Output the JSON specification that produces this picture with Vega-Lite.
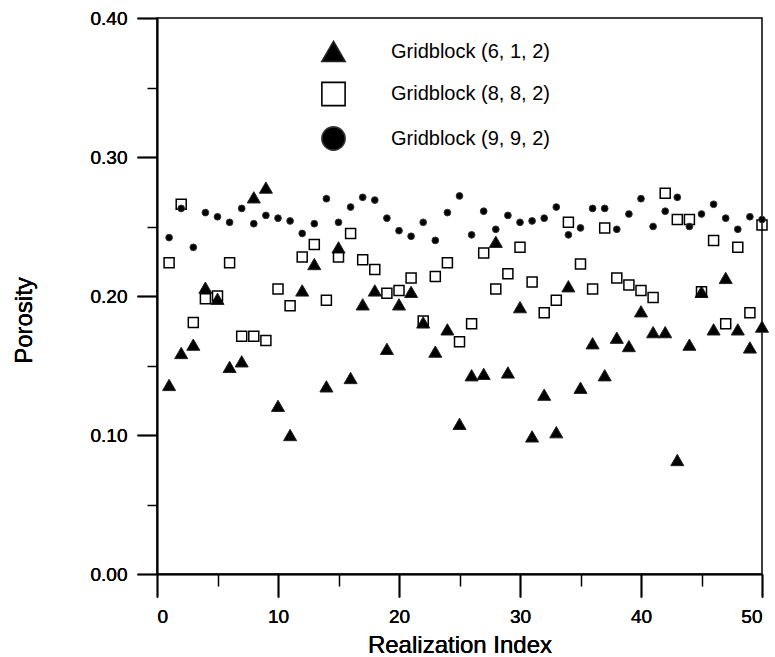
{
  "$schema": "https://vega.github.io/schema/vega-lite/v6.json",
  "width": 605,
  "height": 556,
  "autosize": {"type": "none"},
  "padding": {"left": 157, "top": 18, "right": 13, "bottom": 83},
  "background": "white",
  "config": {
    "view": {"stroke": "black", "strokeWidth": 1.5},
    "font": "Liberation Sans",
    "axis": {"grid": false, "domainColor": "black", "domainWidth": 1.5, "tickColor": "black", "tickWidth": 1.5, "labelColor": "black", "titleColor": "black", "labelFont": "Liberation Sans", "titleFont": "Liberation Sans", "titleFontWeight": "normal"},
    "legend": {"orient": "none", "legendX": 164, "legendY": 21, "title": null, "symbolSize": 540, "symbolStrokeWidth": 1.6, "labelFontSize": 20, "labelFont": "Liberation Sans", "labelColor": "black", "labelOffset": 45, "labelLimit": 400, "rowPadding": 13.5, "padding": 0}
  },
  "datasets": {
    "pts": [
      {"i":1,"s":"Gridblock (6, 1, 2)","v":0.136},{"i":2,"s":"Gridblock (6, 1, 2)","v":0.159},{"i":3,"s":"Gridblock (6, 1, 2)","v":0.165},{"i":4,"s":"Gridblock (6, 1, 2)","v":0.206},{"i":5,"s":"Gridblock (6, 1, 2)","v":0.198},
      {"i":6,"s":"Gridblock (6, 1, 2)","v":0.149},{"i":7,"s":"Gridblock (6, 1, 2)","v":0.153},{"i":8,"s":"Gridblock (6, 1, 2)","v":0.271},{"i":9,"s":"Gridblock (6, 1, 2)","v":0.278},{"i":10,"s":"Gridblock (6, 1, 2)","v":0.121},
      {"i":11,"s":"Gridblock (6, 1, 2)","v":0.100},{"i":12,"s":"Gridblock (6, 1, 2)","v":0.204},{"i":13,"s":"Gridblock (6, 1, 2)","v":0.223},{"i":14,"s":"Gridblock (6, 1, 2)","v":0.135},{"i":15,"s":"Gridblock (6, 1, 2)","v":0.235},
      {"i":16,"s":"Gridblock (6, 1, 2)","v":0.141},{"i":17,"s":"Gridblock (6, 1, 2)","v":0.194},{"i":18,"s":"Gridblock (6, 1, 2)","v":0.204},{"i":19,"s":"Gridblock (6, 1, 2)","v":0.162},{"i":20,"s":"Gridblock (6, 1, 2)","v":0.194},
      {"i":21,"s":"Gridblock (6, 1, 2)","v":0.203},{"i":22,"s":"Gridblock (6, 1, 2)","v":0.181},{"i":23,"s":"Gridblock (6, 1, 2)","v":0.160},{"i":24,"s":"Gridblock (6, 1, 2)","v":0.176},{"i":25,"s":"Gridblock (6, 1, 2)","v":0.108},
      {"i":26,"s":"Gridblock (6, 1, 2)","v":0.143},{"i":27,"s":"Gridblock (6, 1, 2)","v":0.144},{"i":28,"s":"Gridblock (6, 1, 2)","v":0.239},{"i":29,"s":"Gridblock (6, 1, 2)","v":0.145},{"i":30,"s":"Gridblock (6, 1, 2)","v":0.192},
      {"i":31,"s":"Gridblock (6, 1, 2)","v":0.099},{"i":32,"s":"Gridblock (6, 1, 2)","v":0.129},{"i":33,"s":"Gridblock (6, 1, 2)","v":0.102},{"i":34,"s":"Gridblock (6, 1, 2)","v":0.207},{"i":35,"s":"Gridblock (6, 1, 2)","v":0.134},
      {"i":36,"s":"Gridblock (6, 1, 2)","v":0.166},{"i":37,"s":"Gridblock (6, 1, 2)","v":0.143},{"i":38,"s":"Gridblock (6, 1, 2)","v":0.170},{"i":39,"s":"Gridblock (6, 1, 2)","v":0.164},{"i":40,"s":"Gridblock (6, 1, 2)","v":0.189},
      {"i":41,"s":"Gridblock (6, 1, 2)","v":0.174},{"i":42,"s":"Gridblock (6, 1, 2)","v":0.174},{"i":43,"s":"Gridblock (6, 1, 2)","v":0.082},{"i":44,"s":"Gridblock (6, 1, 2)","v":0.165},{"i":45,"s":"Gridblock (6, 1, 2)","v":0.203},
      {"i":46,"s":"Gridblock (6, 1, 2)","v":0.176},{"i":47,"s":"Gridblock (6, 1, 2)","v":0.213},{"i":48,"s":"Gridblock (6, 1, 2)","v":0.176},{"i":49,"s":"Gridblock (6, 1, 2)","v":0.163},{"i":50,"s":"Gridblock (6, 1, 2)","v":0.178},
      {"i":1,"s":"Gridblock (8, 8, 2)","v":0.224},{"i":2,"s":"Gridblock (8, 8, 2)","v":0.266},{"i":3,"s":"Gridblock (8, 8, 2)","v":0.181},{"i":4,"s":"Gridblock (8, 8, 2)","v":0.198},{"i":5,"s":"Gridblock (8, 8, 2)","v":0.200},
      {"i":6,"s":"Gridblock (8, 8, 2)","v":0.224},{"i":7,"s":"Gridblock (8, 8, 2)","v":0.171},{"i":8,"s":"Gridblock (8, 8, 2)","v":0.171},{"i":9,"s":"Gridblock (8, 8, 2)","v":0.168},{"i":10,"s":"Gridblock (8, 8, 2)","v":0.205},
      {"i":11,"s":"Gridblock (8, 8, 2)","v":0.193},{"i":12,"s":"Gridblock (8, 8, 2)","v":0.228},{"i":13,"s":"Gridblock (8, 8, 2)","v":0.237},{"i":14,"s":"Gridblock (8, 8, 2)","v":0.197},{"i":15,"s":"Gridblock (8, 8, 2)","v":0.228},
      {"i":16,"s":"Gridblock (8, 8, 2)","v":0.245},{"i":17,"s":"Gridblock (8, 8, 2)","v":0.226},{"i":18,"s":"Gridblock (8, 8, 2)","v":0.219},{"i":19,"s":"Gridblock (8, 8, 2)","v":0.202},{"i":20,"s":"Gridblock (8, 8, 2)","v":0.204},
      {"i":21,"s":"Gridblock (8, 8, 2)","v":0.213},{"i":22,"s":"Gridblock (8, 8, 2)","v":0.182},{"i":23,"s":"Gridblock (8, 8, 2)","v":0.214},{"i":24,"s":"Gridblock (8, 8, 2)","v":0.224},{"i":25,"s":"Gridblock (8, 8, 2)","v":0.167},
      {"i":26,"s":"Gridblock (8, 8, 2)","v":0.180},{"i":27,"s":"Gridblock (8, 8, 2)","v":0.231},{"i":28,"s":"Gridblock (8, 8, 2)","v":0.205},{"i":29,"s":"Gridblock (8, 8, 2)","v":0.216},{"i":30,"s":"Gridblock (8, 8, 2)","v":0.235},
      {"i":31,"s":"Gridblock (8, 8, 2)","v":0.210},{"i":32,"s":"Gridblock (8, 8, 2)","v":0.188},{"i":33,"s":"Gridblock (8, 8, 2)","v":0.197},{"i":34,"s":"Gridblock (8, 8, 2)","v":0.253},{"i":35,"s":"Gridblock (8, 8, 2)","v":0.223},
      {"i":36,"s":"Gridblock (8, 8, 2)","v":0.205},{"i":37,"s":"Gridblock (8, 8, 2)","v":0.249},{"i":38,"s":"Gridblock (8, 8, 2)","v":0.213},{"i":39,"s":"Gridblock (8, 8, 2)","v":0.208},{"i":40,"s":"Gridblock (8, 8, 2)","v":0.204},
      {"i":41,"s":"Gridblock (8, 8, 2)","v":0.199},{"i":42,"s":"Gridblock (8, 8, 2)","v":0.274},{"i":43,"s":"Gridblock (8, 8, 2)","v":0.255},{"i":44,"s":"Gridblock (8, 8, 2)","v":0.255},{"i":45,"s":"Gridblock (8, 8, 2)","v":0.203},
      {"i":46,"s":"Gridblock (8, 8, 2)","v":0.240},{"i":47,"s":"Gridblock (8, 8, 2)","v":0.180},{"i":48,"s":"Gridblock (8, 8, 2)","v":0.235},{"i":49,"s":"Gridblock (8, 8, 2)","v":0.188},{"i":50,"s":"Gridblock (8, 8, 2)","v":0.251},
      {"i":1,"s":"Gridblock (9, 9, 2)","v":0.242},{"i":2,"s":"Gridblock (9, 9, 2)","v":0.263},{"i":3,"s":"Gridblock (9, 9, 2)","v":0.235},{"i":4,"s":"Gridblock (9, 9, 2)","v":0.260},{"i":5,"s":"Gridblock (9, 9, 2)","v":0.257},
      {"i":6,"s":"Gridblock (9, 9, 2)","v":0.253},{"i":7,"s":"Gridblock (9, 9, 2)","v":0.263},{"i":8,"s":"Gridblock (9, 9, 2)","v":0.252},{"i":9,"s":"Gridblock (9, 9, 2)","v":0.258},{"i":10,"s":"Gridblock (9, 9, 2)","v":0.256},
      {"i":11,"s":"Gridblock (9, 9, 2)","v":0.254},{"i":12,"s":"Gridblock (9, 9, 2)","v":0.245},{"i":13,"s":"Gridblock (9, 9, 2)","v":0.252},{"i":14,"s":"Gridblock (9, 9, 2)","v":0.270},{"i":15,"s":"Gridblock (9, 9, 2)","v":0.253},
      {"i":16,"s":"Gridblock (9, 9, 2)","v":0.264},{"i":17,"s":"Gridblock (9, 9, 2)","v":0.271},{"i":18,"s":"Gridblock (9, 9, 2)","v":0.269},{"i":19,"s":"Gridblock (9, 9, 2)","v":0.256},{"i":20,"s":"Gridblock (9, 9, 2)","v":0.247},
      {"i":21,"s":"Gridblock (9, 9, 2)","v":0.243},{"i":22,"s":"Gridblock (9, 9, 2)","v":0.253},{"i":23,"s":"Gridblock (9, 9, 2)","v":0.240},{"i":24,"s":"Gridblock (9, 9, 2)","v":0.260},{"i":25,"s":"Gridblock (9, 9, 2)","v":0.272},
      {"i":26,"s":"Gridblock (9, 9, 2)","v":0.244},{"i":27,"s":"Gridblock (9, 9, 2)","v":0.261},{"i":28,"s":"Gridblock (9, 9, 2)","v":0.248},{"i":29,"s":"Gridblock (9, 9, 2)","v":0.258},{"i":30,"s":"Gridblock (9, 9, 2)","v":0.253},
      {"i":31,"s":"Gridblock (9, 9, 2)","v":0.254},{"i":32,"s":"Gridblock (9, 9, 2)","v":0.256},{"i":33,"s":"Gridblock (9, 9, 2)","v":0.264},{"i":34,"s":"Gridblock (9, 9, 2)","v":0.244},{"i":35,"s":"Gridblock (9, 9, 2)","v":0.249},
      {"i":36,"s":"Gridblock (9, 9, 2)","v":0.263},{"i":37,"s":"Gridblock (9, 9, 2)","v":0.263},{"i":38,"s":"Gridblock (9, 9, 2)","v":0.248},{"i":39,"s":"Gridblock (9, 9, 2)","v":0.259},{"i":40,"s":"Gridblock (9, 9, 2)","v":0.270},
      {"i":41,"s":"Gridblock (9, 9, 2)","v":0.250},{"i":42,"s":"Gridblock (9, 9, 2)","v":0.261},{"i":43,"s":"Gridblock (9, 9, 2)","v":0.271},{"i":44,"s":"Gridblock (9, 9, 2)","v":0.250},{"i":45,"s":"Gridblock (9, 9, 2)","v":0.259},
      {"i":46,"s":"Gridblock (9, 9, 2)","v":0.266},{"i":47,"s":"Gridblock (9, 9, 2)","v":0.256},{"i":48,"s":"Gridblock (9, 9, 2)","v":0.248},{"i":49,"s":"Gridblock (9, 9, 2)","v":0.257},{"i":50,"s":"Gridblock (9, 9, 2)","v":0.255}
    ]
  },
  "data": {"name": "pts"},
  "encoding": {
    "x": {"field": "i", "type": "quantitative", "scale": {"domain": [0, 50], "nice": false},
      "axis": {"orient": "bottom", "values": [0, 10, 20, 30, 40, 50], "tickSize": 23, "labelFontSize": 19, "labelPadding": 10, "title": "Realization Index", "titleFontSize": 24, "titleBaseline": "alphabetic", "titleY": 78}},
    "y": {"field": "v", "type": "quantitative", "scale": {"domain": [0, 0.4], "nice": false, "zero": false},
      "axis": {"orient": "left", "values": [0, 0.1, 0.2, 0.3, 0.4], "format": ".2f", "tickSize": 20, "labelFontSize": 19, "labelPadding": 10, "title": "Porosity", "titleFontSize": 24, "titleBaseline": "alphabetic", "titleX": -126, "titleY": 302}},
    "shape": {"field": "s", "type": "nominal",
      "scale": {"domain": ["Gridblock (6, 1, 2)", "Gridblock (8, 8, 2)", "Gridblock (9, 9, 2)"], "range": ["triangle-up", "square", "circle"]}},
    "fill": {"field": "s", "type": "nominal",
      "scale": {"domain": ["Gridblock (6, 1, 2)", "Gridblock (8, 8, 2)", "Gridblock (9, 9, 2)"], "range": ["black", "transparent", "black"]}},
    "stroke": {"field": "s", "type": "nominal",
      "scale": {"domain": ["Gridblock (6, 1, 2)", "Gridblock (8, 8, 2)", "Gridblock (9, 9, 2)"], "range": ["#222222", "#000000", "#333333"]}}
  },
  "layer": [
    {
      "transform": [{"filter": "datum.s === 'Gridblock (6, 1, 2)'"}],
      "mark": {"type": "point", "opacity": 1, "strokeWidth": 1, "size": 170}
    },
    {
      "transform": [{"filter": "datum.s === 'Gridblock (8, 8, 2)'"}],
      "mark": {"type": "point", "opacity": 1, "strokeWidth": 1.5, "size": 100}
    },
    {
      "transform": [{"filter": "datum.s === 'Gridblock (9, 9, 2)'"}],
      "mark": {"type": "point", "opacity": 1, "strokeWidth": 1, "size": 45}
    },
    {
      "mark": {"type": "point", "opacity": 0},
      "encoding": {
        "x": {"field": "i", "type": "quantitative", "axis": {"orient": "bottom", "values": [5, 15, 25, 35, 45], "tickSize": 12, "labels": false, "domain": false, "title": null}},
        "y": {"field": "v", "type": "quantitative", "axis": {"orient": "left", "values": [0.05, 0.15, 0.25, 0.35], "tickSize": 10, "labels": false, "domain": false, "title": null}},
        "shape": {"value": "circle"},
        "fill": {"value": "transparent"},
        "stroke": {"value": "transparent"}
      }
    }
  ],
  "resolve": {"axis": {"x": "independent", "y": "independent"}}
}
